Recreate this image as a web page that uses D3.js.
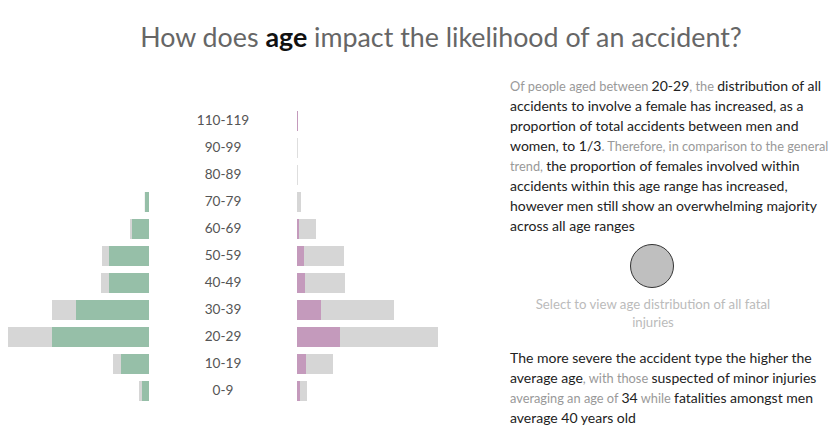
<!DOCTYPE html>
<html>
<head>
<meta charset="utf-8">
<script src="https://cdn.jsdelivr.net/npm/d3@7"></script>
<style>
body{margin:0;background:#fff;}
svg{font-family:Lato,"Open Sans",sans-serif;}
</style>
</head>
<body>
<div id="chart"></div>
<script>
var ageGroups = ["110-119","90-99","80-89","70-79","60-69","50-59","40-49","30-39","20-29","10-19","0-9"];
// left side (men): all accidents and selected
var maleAll = [0,0,0,4.3,19,47,48,97,141,36,10];
var maleSel = [0,0,0,4,17,40,40,73,97,28,7];
// right side (women)
var femaleAll = [0,0.8,0.8,4,19,47,48,97,141,36,10];
var femaleSel = [1,0,0,0,2,7,8,24,43,9,3];

var W = 838, H = 448;
var svg = d3.select("#chart").append("svg").attr("width",W).attr("height",H);

//title
var title = svg.append("text").attr("x",441).attr("y",47).attr("text-anchor","middle")
	.style("font-size","26.8px").style("fill","#666");
title.append("tspan").text("How does ");
title.append("tspan").text("age").style("font-weight","bold").style("fill","#111");
title.append("tspan").text(" impact the likelihood of an accident?");

//scales
var y = d3.scaleBand().domain(ageGroups).range([107.5,404.5]).paddingInner(7/27).paddingOuter(3.5/27);
var x = d3.scaleLinear().domain([0,141]).range([0,141]);
var leftEdge = 149, rightEdge = 297;

var rows = ageGroups.map(function(d,i){
	return {age:d, mAll:maleAll[i], mSel:maleSel[i], fAll:femaleAll[i], fSel:femaleSel[i]};
});

//men - grey
svg.selectAll(".mAll").data(rows).enter().append("rect")
	.attr("x",function(d){return leftEdge - x(d.mAll);})
	.attr("y",function(d){return y(d.age);})
	.attr("width",function(d){return x(d.mAll);})
	.attr("height",y.bandwidth())
	.attr("fill","#d6d6d6");
svg.selectAll(".mSel").data(rows).enter().append("rect")
	.attr("x",function(d){return leftEdge - x(d.mSel);})
	.attr("y",function(d){return y(d.age);})
	.attr("width",function(d){return x(d.mSel);})
	.attr("height",y.bandwidth())
	.attr("fill","#96bfa8");

//women
svg.selectAll(".fAll").data(rows).enter().append("rect")
	.attr("x",rightEdge)
	.attr("y",function(d){return y(d.age);})
	.attr("width",function(d){return x(d.fAll);})
	.attr("height",y.bandwidth())
	.attr("fill","#d6d6d6");
svg.selectAll(".fSel").data(rows).enter().append("rect")
	.attr("x",rightEdge)
	.attr("y",function(d){return y(d.age);})
	.attr("width",function(d){return x(d.fSel);})
	.attr("height",y.bandwidth())
	.attr("fill","#c49abc");

//age labels
var axis = d3.axisLeft(y).tickSize(0).tickPadding(0);
var g = svg.append("g").attr("transform","translate(223,0)").call(axis);
g.select(".domain").remove();
g.selectAll("text").attr("text-anchor","middle").style("font-size","13.6px")
	.style("fill","#555").style("font-family","Lato,'Open Sans',sans-serif");

//rich text helper: lines of [text, dark?]
var dark = "#222", light = "#999";
var writeLines = function(lines,x0,y0,step,anchor){
	lines.forEach(function(line,i){
		var t = svg.append("text").attr("x",x0).attr("y",y0+i*step).attr("text-anchor",anchor||"start");
		line.forEach(function(p){
			t.append("tspan").text(p[0])
				.style("fill",p[1] ? dark : light)
				.style("font-size",p[1] ? "14px" : "12.8px");
		});
	});
};

writeLines([
	[["Of people aged between ",0],["20-29",1],[", the ",0],["distribution of all",1]],
	[["accidents to involve a female has increased, as a",1]],
	[["proportion of total accidents between men and",1]],
	[["women, to 1/3",1],[". Therefore, in comparison to the general",0]],
	[["trend, ",0],["the proportion of females involved within",1]],
	[["accidents within this age range has increased,",1]],
	[["however men still show an overwhelming majority",1]],
	[["across all age ranges",1]]
],510,91,20);

//selector circle
svg.append("circle").attr("cx",652).attr("cy",266).attr("r",21.5)
	.attr("fill","#bfbfbf").attr("stroke","#333").attr("stroke-width",1);
svg.append("text").attr("x",653).attr("y",309).attr("text-anchor","middle")
	.style("font-size","13.2px").style("fill","#bbb").text("Select to view age distribution of all fatal");
svg.append("text").attr("x",653).attr("y",327).attr("text-anchor","middle")
	.style("font-size","13.2px").style("fill","#bbb").text("injuries");

writeLines([
	[["The more severe the accident type the higher the",1]],
	[["average age",1],[", with those ",0],["suspected of minor injuries",1]],
	[["averaging an age of ",0],["34",1],[" while ",0],["fatalities amongst men",1]],
	[["average 40 years old",1]]
],510,363,20);
</script>
</body>
</html>
